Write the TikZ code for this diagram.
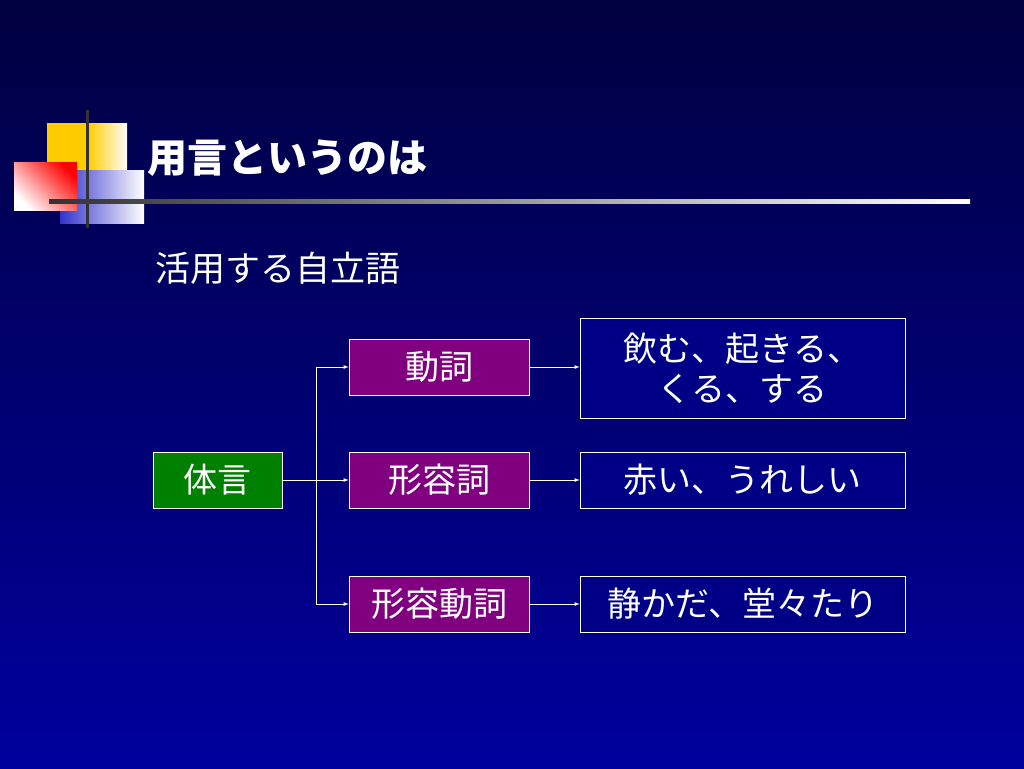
\documentclass[tikz,border=0pt]{standalone}
\usepackage{fontspec}
\setmainfont{Noto Sans CJK JP}
\usetikzlibrary{positioning}
\definecolor{navytop}{HTML}{000040}
\definecolor{navybot}{HTML}{00009E}
\definecolor{wordgreen}{HTML}{008000}
\definecolor{wordpurple}{HTML}{800080}
\definecolor{logogold}{HTML}{FFCC00}
\definecolor{logoblue}{HTML}{3333CC}
\tikzset{
  box/.style={draw=white, line width=0.6pt, text=white, minimum height=56pt,
    font=\fontsize{34}{40}\selectfont, inner sep=0pt},
  kindbox/.style={box, fill=wordpurple, minimum width=180pt},
  examplebox/.style={box, fill=navybot!85!black, minimum width=325pt, align=center},
  link/.style={draw=white, line width=0.8pt, -latex}
}
\begin{document}
\begin{tikzpicture}[x=1pt, y=-1pt]
  \shade[top color=navytop, bottom color=navybot] (0,0) rectangle (1024,768);
  % logo
  \fill[logogold] (47,123) rectangle (88,175);
  \shade[left color=logogold, right color=white] (88,123) rectangle (127,175);
  \shade[left color=logoblue, right color=white] (60,170) rectangle (144,223);
  \shade[left color=white, right color=red, shading angle=135] (14,162) rectangle (77,210);
  \draw[line width=3pt, color=black!80] (87,110) -- (87,228);
  \shade[left color=black!80, right color=white] (49,199) rectangle (970,203);
  \node[anchor=west, text=white, font=\fontsize{40}{44}\selectfont\bfseries] (title) at (144,158) {用言というのは};
  \node[anchor=west, text=white, font=\fontsize{35}{40}\selectfont] (subtitle) at (152,268) {活用する自立語};

  \node[box, fill=wordgreen, minimum width=129pt] (taigen) at (217.5,480) {体言};
  \node[kindbox] (verb) at (439,367) {動詞};
  \node[kindbox] (adj) at (439,480) {形容詞};
  \node[kindbox] (adjverb) at (439,604) {形容動詞};
  \node[examplebox, minimum height=100pt] (verbex) at (742.5,368) {飲む、起きる、\\くる、する};
  \node[examplebox] (adjex) at (742.5,480) {赤い、うれしい};
  \node[examplebox] (adjverbex) at (742.5,604) {静かだ、堂々たり};

  \coordinate (fork) at (316,480);
  \draw[draw=white, line width=0.8pt] (taigen) -- (fork);
  \draw[link] (fork) |- (verb);
  \draw[link] (fork) -- (adj);
  \draw[link] (fork) |- (adjverb);
  \draw[link] (verb) -- (verbex.west |- verb);
  \draw[link] (adj) -- (adjex);
  \draw[link] (adjverb) -- (adjverbex);
\end{tikzpicture}
\end{document}
